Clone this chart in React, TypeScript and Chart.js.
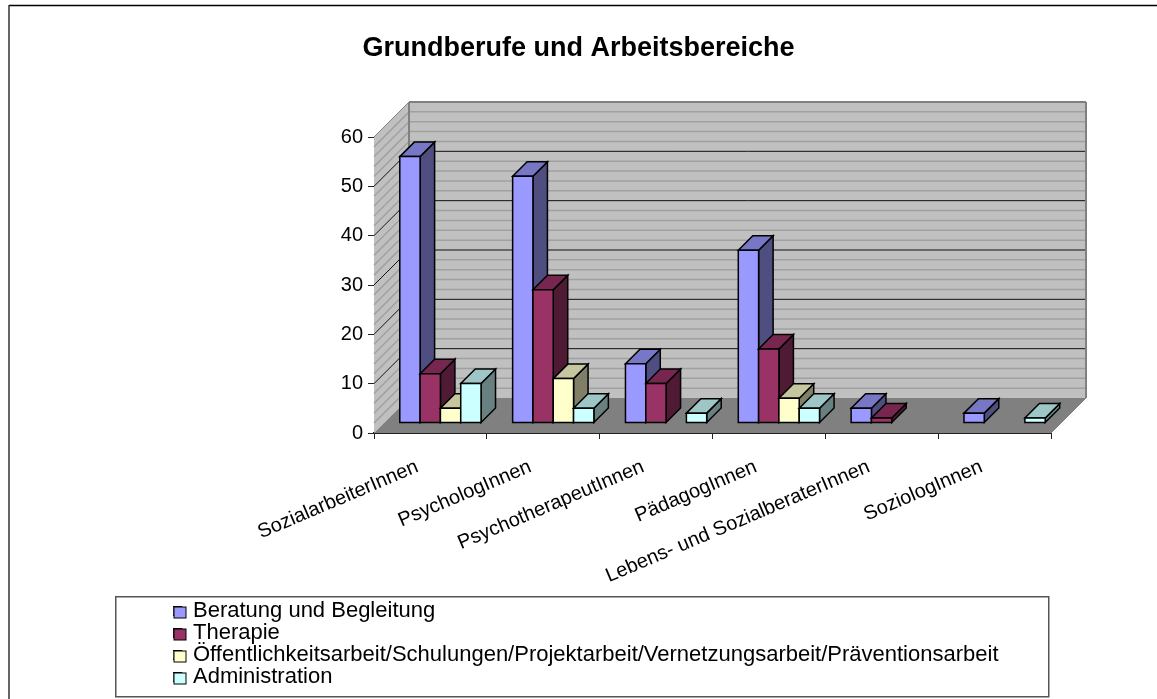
import React, { useEffect, useRef } from "react";
import { Chart, registerables } from "chart.js";

Chart.register(...registerables);

const categories = [
  "SozialarbeiterInnen",
  "PsychologInnen",
  "PsychotherapeutInnen",
  "PädagogInnen",
  "Lebens- und SozialberaterInnen",
  "SoziologInnen",
];
const seriesNames = [
  "Beratung und Begleitung",
  "Therapie",
  "Öffentlichkeitsarbeit/Schulungen/Projektarbeit/Vernetzungsarbeit/Präventionsarbeit",
  "Administration",
];
const beratung = [54, 50, 12, 35, 3, 2];
const therapie = [10, 27, 8, 15, 1, 0];
const oeffentlichkeit = [3, 9, 0, 5, 0, 0];
const administration = [8, 3, 2, 3, 0, 1];

const seriesValues = [beratung, therapie, oeffentlichkeit, administration];
const frontColors = ["#9999FF", "#993366", "#FFFFCC", "#CCFFFF"];
const topColors = ["#7777C6", "#77274F", "#C6C69F", "#9FC6C6"];
const sideColors = ["#4E4E80", "#4E1A34", "#808068", "#688080"];

const WALL_DEPTH = 35;
const BAR_GAP = 10;
const BAR_DEPTH = 14.5;
const MINOR_STEP = 2;

function poly(ctx: CanvasRenderingContext2D, pts: number[][], fill: string, stroke: string | null, lw = 1) {
  ctx.beginPath();
  pts.forEach((p, i) => (i ? ctx.lineTo(p[0], p[1]) : ctx.moveTo(p[0], p[1])));
  ctx.closePath();
  ctx.fillStyle = fill;
  ctx.fill();
  if (stroke) {
    ctx.strokeStyle = stroke;
    ctx.lineWidth = lw;
    ctx.lineJoin = "miter";
    ctx.stroke();
  }
}

function line(ctx: CanvasRenderingContext2D, x0: number, y0: number, x1: number, y1: number, c: string, lw: number) {
  ctx.beginPath();
  ctx.moveTo(x0, y0);
  ctx.lineTo(x1, y1);
  ctx.strokeStyle = c;
  ctx.lineWidth = lw;
  ctx.stroke();
}

const scene3d = {
  id: "scene3d",
  afterLayout(chart: any) {
    const lg = chart.legend;
    if (lg) {
      lg.left = 173;
      lg.right = 1045;
      lg.width = 872;
      lg.top = 600;
      lg.bottom = 697;
      lg.height = 97;
    }
    const tb = chart.titleBlock;
    if (tb) {
      tb.left = 0;
      tb.right = 1157;
      tb.width = 1157;
    }
  },
  beforeDraw(chart: any) {
    const ctx: CanvasRenderingContext2D = chart.ctx;
    ctx.save();
    line(ctx, 9, 5.5, 1157, 5.5, "#000", 1.5);
    line(ctx, 9, 5, 9, 699, "#333", 1.5);
    ctx.strokeStyle = "#555";
    ctx.lineWidth = 1.5;
    ctx.strokeRect(115.75, 596.75, 933, 100);
    ctx.restore();
  },
  afterDraw(chart: any) {
    const ctx: CanvasRenderingContext2D = chart.ctx;
    const lg = chart.legend;
    ctx.save();
    (lg.legendItems || []).forEach((item: any, i: number) => {
      const cy = lg.top + 12 + i * 22;
      ctx.fillStyle = item.fillStyle;
      ctx.strokeStyle = "#000";
      ctx.lineWidth = 1;
      ctx.fillRect(174, cy - 5, 12, 11);
      ctx.strokeRect(174, cy - 5, 12, 11);
    });
    ctx.restore();
  },
  beforeDatasetsDraw(chart: any) {
    const ctx: CanvasRenderingContext2D = chart.ctx;
    const { left, right, top, bottom } = chart.chartArea;
    const y = chart.scales.y;
    const d = WALL_DEPTH;
    ctx.save();
    poly(ctx, [[left, bottom], [left, top], [left + d, top - d], [left + d, bottom - d]], "#C0C0C0", null);
    poly(ctx, [[left + d, top - d], [right + d, top - d], [right + d, bottom - d], [left + d, bottom - d]], "#C0C0C0", null);
    for (let v = y.min; v <= y.max; v += MINOR_STEP) {
      if (v % 10 === 0) continue;
      const py = y.getPixelForValue(v);
      line(ctx, left + d, py - d, right + d, py - d, "#A0A0A0", 1.5);
      line(ctx, left, py, left + d, py - d, "#A0A0A0", 1.5);
    }
    for (let v = y.min + 10; v < y.max; v += 10) {
      const py = y.getPixelForValue(v);
      line(ctx, left + d, py - d, right + d, py - d, "#111", 1);
      line(ctx, left, py, left + d, py - d, "#111", 1);
    }
    poly(ctx, [[left, bottom], [right, bottom], [right + d, bottom - d], [left + d, bottom - d]], "#808080", null);
    line(ctx, left + d, top - d, right + d, top - d, "#808080", 2);
    line(ctx, right + d, top - d, right + d, bottom - d, "#808080", 2);
    line(ctx, left + d, top - d, left + d, bottom - d, "#808080", 2);
    line(ctx, left, top, left + d, top - d, "#808080", 1);
    line(ctx, right, bottom, right + d, bottom - d, "#808080", 1);

    const cols = categories.length;
    for (let c = 0; c < cols; c++) {
      for (let s = 0; s < seriesValues.length; s++) {
        const el = chart.getDatasetMeta(s).data[c];
        if (!seriesValues[s][c]) continue;
        const x0 = el.x - el.width / 2 + BAR_GAP;
        const x1 = el.x + el.width / 2 + BAR_GAP;
        const yt = el.y - BAR_GAP;
        const yb = el.base - BAR_GAP;
        const k = BAR_DEPTH;
        poly(ctx, [[x1, yt], [x1 + k, yt - k], [x1 + k, yb - k], [x1, yb]], sideColors[s], "#000", 1.5);
        poly(ctx, [[x0, yt], [x0 + k, yt - k], [x1 + k, yt - k], [x1, yt]], topColors[s], "#000", 1.5);
        poly(ctx, [[x0, yt], [x1, yt], [x1, yb], [x0, yb]], frontColors[s], "#000", 1.5);
      }
    }
    ctx.restore();
    return false;
  },
};

export default function App() {
  const ref = useRef<HTMLCanvasElement>(null);
  useEffect(() => {
    const chart = new Chart(ref.current!, {
      type: "bar",
      data: {
        labels: categories,
        datasets: seriesNames.map((label, i) => ({
          label,
          data: seriesValues[i],
          backgroundColor: frontColors[i],
          borderColor: "#000",
          borderWidth: 1,
        })),
      },
      options: {
        animation: false,
        responsive: false,
        layout: { padding: { left: 324, right: 106, top: 0, bottom: 86 } },
        datasets: { bar: { categoryPercentage: 0.72, barPercentage: 1 } },
        scales: {
          x: {
            offset: true,
            afterFit: (s: any) => { s.height = 180; },
            grid: { offset: true, drawOnChartArea: false, drawTicks: true, tickLength: 6, color: "#222", lineWidth: 1 },
            border: { color: "#222", width: 2 },
            ticks: {
              autoSkip: false,
              minRotation: 23,
              maxRotation: 23,
              labelOffset: -13,
              color: "#000",
              padding: 16,
              font: { family: "Liberation Sans", size: 20 },
            },
          },
          y: {
            min: 0,
            max: 60,
            afterFit: (s: any) => { s.width = 50; },
            grid: { drawOnChartArea: false, drawTicks: true, tickLength: 6, color: "#222", lineWidth: 1 },
            border: { color: "#444", width: 1 },
            ticks: {
              stepSize: 10,
              color: "#000",
              padding: 5,
              font: { family: "Liberation Sans", size: 20 },
            },
          },
        },
        plugins: {
          tooltip: { enabled: false },
          title: {
            display: true,
            text: "Grundberufe und Arbeitsbereiche",
            color: "#000",
            font: { family: "Liberation Sans", size: 27, weight: "bold", lineHeight: 1.2 },
            padding: { top: 32, bottom: 72.6 },
          },
          legend: {
            position: "chartArea",
            align: "start",
            maxWidth: 872,
            labels: {
              boxWidth: 9,
              boxHeight: 9,
              padding: 0,
              color: "#000",
              font: { family: "Liberation Sans", size: 22 },
            },
          },
        },
      },
      plugins: [scene3d],
    } as any);
    return () => chart.destroy();
  }, []);
  return (
    <canvas
      ref={ref}
      width={1157}
      height={699}
      style={{ position: "absolute", left: 0, top: 0, display: "block" }}
    />
  );
}
